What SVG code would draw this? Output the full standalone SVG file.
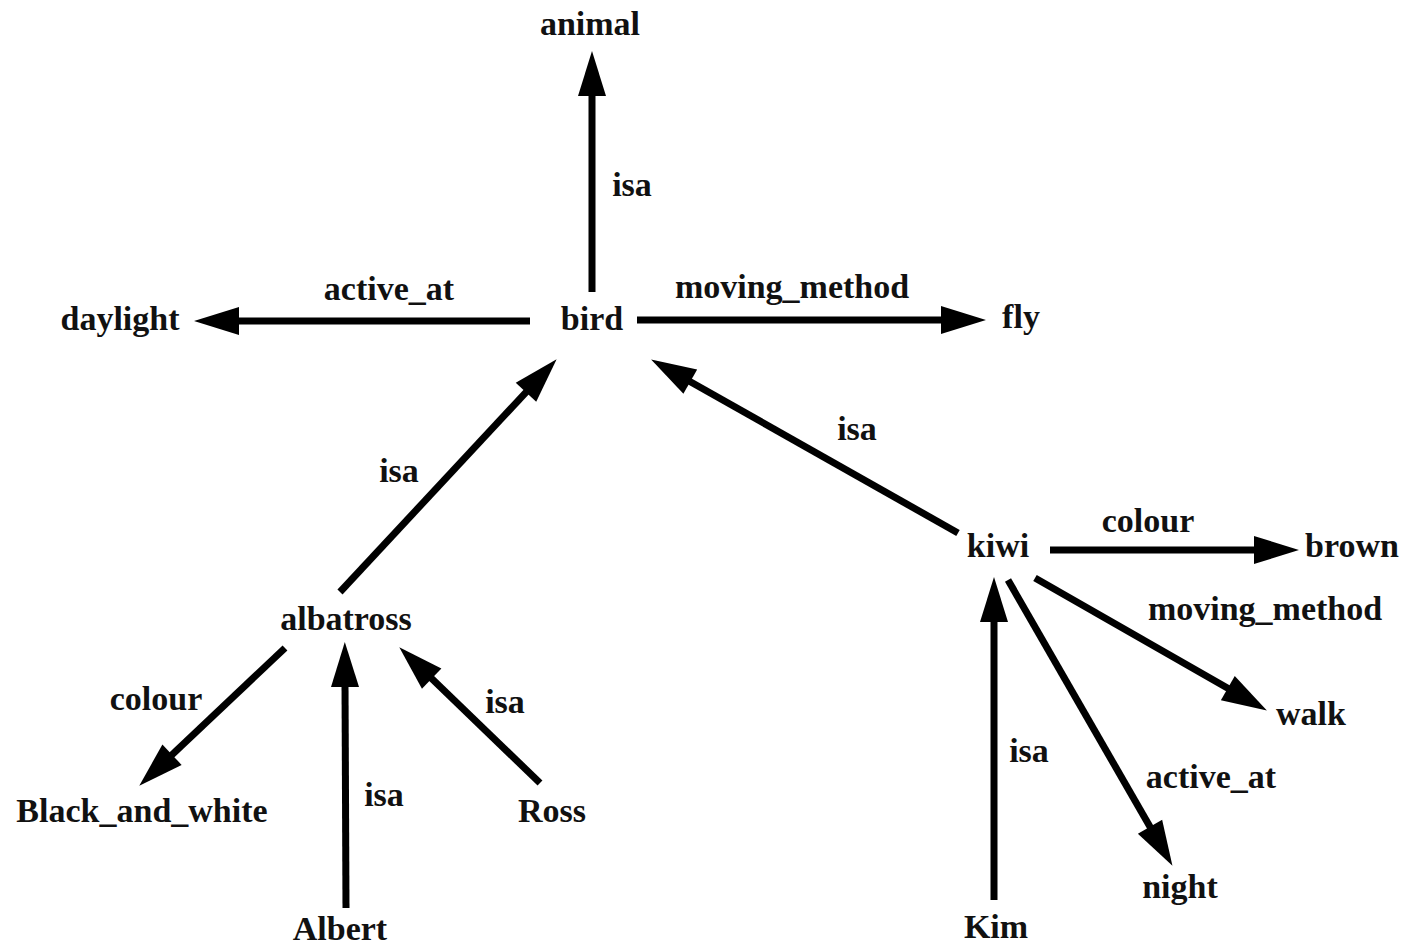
<svg xmlns="http://www.w3.org/2000/svg" width="1414" height="946" viewBox="0 0 1414 946">
<style>
text{font-family:"Liberation Serif","Times New Roman",serif;font-weight:bold;font-size:34px;fill:#111;text-anchor:middle}
.e{stroke:#000;stroke-width:7;fill:none;stroke-linecap:butt;marker-end:url(#ah)}
</style>
<defs>
<marker id="ah" markerUnits="userSpaceOnUse" markerWidth="60" markerHeight="40" refX="4" refY="0" viewBox="0 -20 60 40" orient="auto" overflow="visible">
<path d="M0,-14 L45,0 L0,14 Z" fill="#000"/>
</marker>
</defs>
<rect width="1414" height="946" fill="#fff"/>
<g id="connectors">
<line class="e" x1="592" y1="292" x2="592" y2="92"/>
<line class="e" x1="530" y1="321" x2="235" y2="321"/>
<line class="e" x1="637" y1="320" x2="945" y2="320"/>
<line class="e" x1="340" y1="592" x2="528.7" y2="389.3"/>
<line class="e" x1="958" y1="533" x2="686.8" y2="379.7"/>
<line class="e" x1="1050" y1="550" x2="1258" y2="550"/>
<line class="e" x1="1035" y1="578" x2="1231.3" y2="690.2"/>
<line class="e" x1="1008" y1="580" x2="1152" y2="830.3"/>
<line class="e" x1="994" y1="900" x2="994" y2="618"/>
<line class="e" x1="285" y1="648" x2="169.1" y2="757.5"/>
<line class="e" x1="346" y1="908" x2="345" y2="683"/>
<line class="e" x1="540" y1="783" x2="428.8" y2="675.8"/>
<text x="632" y="196">isa</text>
<text x="389" y="300">active_at</text>
<text x="792" y="298">moving_method</text>
<text x="399" y="482">isa</text>
<text x="857" y="440">isa</text>
<text x="1148" y="532">colour</text>
<text x="1265" y="620">moving_method</text>
<text x="1211" y="788">active_at</text>
<text x="1029" y="762">isa</text>
<text x="156" y="710">colour</text>
<text x="384" y="806">isa</text>
<text x="505" y="713">isa</text>
</g>
<g id="animal"><text x="590" y="35">animal</text></g>
<g id="bird"><text x="592" y="330">bird</text></g>
<g id="daylight"><text x="120" y="330">daylight</text></g>
<g id="fly"><text x="1021" y="328">fly</text></g>
<g id="albatross"><text x="346" y="630">albatross</text></g>
<g id="kiwi"><text x="998" y="557">kiwi</text></g>
<g id="brown"><text x="1352" y="557">brown</text></g>
<g id="walk"><text x="1311" y="725">walk</text></g>
<g id="night"><text x="1180" y="898">night</text></g>
<g id="Kim"><text x="996" y="938">Kim</text></g>
<g id="Black_and_white"><text x="142" y="822">Black_and_white</text></g>
<g id="Albert"><text x="340" y="940">Albert</text></g>
<g id="Ross"><text x="552" y="822">Ross</text></g>
</svg>
